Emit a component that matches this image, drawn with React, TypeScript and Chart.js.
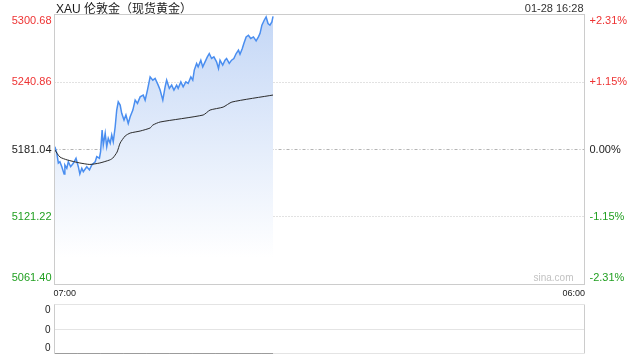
import React, { useEffect, useRef } from "react";
import { Chart, registerables } from "chart.js";

Chart.register(...registerables);

const FONT = '"Liberation Sans", Arial, "Noto Sans CJK SC", sans-serif';

const titleText = "XAU 伦敦金（现货黄金）";
const timeStamp = "01-28 16:28";
const watermark = "sina.com";

const priceTicks = [5061.4, 5121.22, 5181.04, 5240.86, 5300.68];
const pctTickLabels = ["-2.31%", "-1.15%", "0.00%", "+1.15%", "+2.31%"];
const baseIndex = 2;

const dayMinutes = 1380;
const timeTickMinutes = [0, 1380];
const timeTickLabels = ["07:00", "06:00"];

// minutes after 07:00
const priceMinutes = [
  1, 6, 10, 14, 19, 25, 27, 32, 36, 42, 49, 56, 62, 66, 71, 75, 84, 91, 97, 106, 110, 117,
  120, 124, 127, 132, 136, 140, 145, 149, 153, 158, 162, 166, 171, 175, 181, 186, 192, 197,
  204, 210, 216, 223, 231, 236, 242, 249, 256, 262, 270, 275, 282, 288, 292, 299, 305, 311,
  318, 322, 329, 335, 342, 348, 355, 360, 364, 370, 374, 381, 386, 392, 398, 403, 409, 415,
  422, 427, 431, 438, 444, 448, 455, 461, 467, 473, 479, 483, 489, 493, 499, 505, 511, 518,
  525, 531, 535, 540, 546, 551, 556, 561, 566, 569,
];
const priceValues = [
  5183.5, 5177.9, 5169.1, 5170.2, 5165.8, 5159.4, 5167.3, 5164.4, 5170.2, 5165.8, 5168.8,
  5173.3, 5165.8, 5159.4, 5164.4, 5161.4, 5165.8, 5162.9, 5167.3, 5170.2, 5174.7, 5173.3,
  5179.1, 5198.3, 5185.0, 5195.4, 5183.5, 5191.0, 5186.5, 5193.9, 5187.9, 5201.2, 5216.0,
  5223.3, 5220.4, 5213.1, 5207.1, 5211.6, 5204.2, 5210.1, 5216.0, 5224.8, 5221.9, 5227.7,
  5229.2, 5224.8, 5233.7, 5245.4, 5242.5, 5244.0, 5238.1, 5233.7, 5224.8, 5236.6, 5242.5,
  5235.2, 5238.1, 5233.7, 5238.1, 5235.2, 5241.0, 5236.6, 5241.0, 5239.6, 5245.4, 5242.5,
  5251.4, 5257.3, 5254.3, 5260.2, 5254.3, 5258.7, 5263.1, 5266.1, 5261.7, 5263.1, 5258.7,
  5252.9, 5260.2, 5255.8, 5260.2, 5261.7, 5257.3, 5260.2, 5261.7, 5266.1, 5269.1, 5265.5,
  5270.6, 5275.0, 5280.8, 5282.3, 5279.4, 5280.8, 5277.3, 5280.8, 5283.8, 5291.2, 5295.6,
  5298.5, 5292.7, 5291.2, 5294.1, 5299.1,
];

const avgMinutes = [1, 14, 33, 66, 92, 118, 144, 152, 163, 171, 184, 197, 223, 249, 256, 275, 387, 405, 439, 462, 569];
const avgValues = [
  5180.6, 5174.4, 5171.8, 5169.1, 5167.8, 5169.1, 5171.8, 5173.5, 5178.8, 5186.8, 5193.0,
  5195.6, 5197.4, 5200.1, 5202.7, 5205.4, 5211.6, 5216.0, 5218.6, 5223.1, 5229.3,
];

const volumeMinutes = [1, 60, 120, 180, 240, 300, 360, 420, 480, 540, 569];
const volumeValues = [0, 0, 0, 0, 0, 0, 0, 0, 0, 0, 0];
const volumeTickLabels = ["0", "0", "0"];

const RED = "#ee3333";
const GREEN = "#22a022";
const DARK = "#222222";
const BORDER = "#cccccc";

const crisp = (v: number) => Math.round(v - 0.5) + 0.5;

const mainDecor = {
  id: "mainDecor",
  beforeDatasetsDraw(chart: any) {
    const { ctx, chartArea: a, scales } = chart;
    const y = scales.y;
    ctx.save();
    ctx.lineWidth = 1;
    priceTicks.forEach((v, i) => {
      if (i === 0 || i === priceTicks.length - 1) return;
      const py = crisp(y.getPixelForValue(v));
      ctx.beginPath();
      if (i === baseIndex) {
        ctx.strokeStyle = "#b4b4b4";
        ctx.setLineDash([3, 2, 1, 2]);
      } else {
        ctx.strokeStyle = "#c4c4c4";
        ctx.setLineDash([1, 2]);
      }
      ctx.moveTo(a.left, py);
      ctx.lineTo(a.right, py);
      ctx.stroke();
    });
    ctx.restore();
  },
  afterDraw(chart: any) {
    const { ctx, chartArea: a, scales } = chart;
    const y = scales.y;
    const x = scales.x;
    ctx.save();
    ctx.strokeStyle = BORDER;
    ctx.lineWidth = 1;
    ctx.setLineDash([]);
    ctx.strokeRect(crisp(a.left), crisp(a.top), Math.round(a.right - a.left), Math.round(a.bottom - a.top));

    ctx.font = `11px ${FONT}`;
    ctx.textBaseline = "middle";
    priceTicks.forEach((v, i) => {
      let py = y.getPixelForValue(v);
      py = Math.min(Math.max(py, a.top + 6), a.bottom - 7);
      const col = i > baseIndex ? RED : i < baseIndex ? GREEN : DARK;
      ctx.fillStyle = col;
      ctx.textAlign = "right";
      ctx.fillText(v.toFixed(2), a.left - 3, py);
      ctx.textAlign = "left";
      ctx.fillText(pctTickLabels[i], a.right + 5, py);
    });

    ctx.font = `9px ${FONT}`;
    ctx.fillStyle = DARK;
    ctx.textBaseline = "middle";
    timeTickMinutes.forEach((m, i) => {
      const px = x.getPixelForValue(m);
      ctx.textAlign = i === 0 ? "left" : "right";
      ctx.fillText(timeTickLabels[i], i === 0 ? px - 1 : px + 0.5, a.bottom + 9);
    });

    ctx.font = `10px ${FONT}`;
    ctx.fillStyle = "#c2c2c2";
    ctx.textAlign = "right";
    ctx.fillText(watermark, a.right - 11, a.bottom - 6);

    ctx.textBaseline = "alphabetic";
    ctx.font = `12px ${FONT}`;
    ctx.fillStyle = "#1a1a1a";
    ctx.textAlign = "left";
    ctx.fillText(titleText, a.left + 1.5, 12.5);
    ctx.font = `11px ${FONT}`;
    ctx.fillStyle = "#333";
    ctx.textAlign = "right";
    ctx.fillText(timeStamp, a.right - 1, 12);
    ctx.restore();
  },
};

const volDecor = {
  id: "volDecor",
  beforeDatasetsDraw(chart: any) {
    const { ctx, chartArea: a, scales } = chart;
    const y = scales.y;
    ctx.save();
    ctx.lineWidth = 1;
    ctx.strokeStyle = "#c8c8c8";
    ctx.setLineDash([1, 1]);
    [1, 0.5, 0].forEach((v) => {
      const py = crisp(y.getPixelForValue(v));
      ctx.beginPath();
      ctx.moveTo(a.left, py);
      ctx.lineTo(a.right, py);
      ctx.stroke();
    });
    ctx.setLineDash([]);
    ctx.strokeStyle = BORDER;
    ctx.beginPath();
    ctx.moveTo(crisp(a.left), a.top);
    ctx.lineTo(crisp(a.left), a.bottom);
    ctx.moveTo(crisp(a.right), a.top);
    ctx.lineTo(crisp(a.right), a.bottom);
    ctx.stroke();
    ctx.restore();
  },
  afterDraw(chart: any) {
    const { ctx, chartArea: a, scales } = chart;
    const y = scales.y;
    ctx.save();
    ctx.font = `10px ${FONT}`;
    ctx.fillStyle = DARK;
    ctx.textAlign = "right";
    ctx.textBaseline = "middle";
    [1, 0.5, 0].forEach((v, i) => {
      let py = y.getPixelForValue(v);
      py = Math.min(Math.max(py, a.top + 6), a.bottom - 5);
      if (i === 1) py += 1;
      ctx.fillText(volumeTickLabels[i], a.left - 4, py);
    });
    ctx.restore();
  },
};

export default function App() {
  const mainRef = useRef<HTMLCanvasElement | null>(null);
  const volRef = useRef<HTMLCanvasElement | null>(null);

  useEffect(() => {
    const mainChart = new Chart(mainRef.current as HTMLCanvasElement, {
      type: "line",
      data: {
        datasets: [
          {
            label: "avg",
            data: avgMinutes.map((m, i) => ({ x: m, y: avgValues[i] })),
            borderColor: "#2b2b2b",
            borderWidth: 1,
            pointRadius: 0,
            fill: false,
            tension: 0.2,
            order: 1,
          },
          {
            label: "price",
            data: priceMinutes.map((m, i) => ({ x: m, y: priceValues[i] })),
            borderColor: "#4a8ef0",
            borderWidth: 1.5,
            pointRadius: 0,
            tension: 0,
            fill: "start",
            order: 2,
            backgroundColor: (c: any) => {
              const ch = c.chart;
              const area = ch.chartArea;
              if (!area) return "rgba(200,218,247,0.6)";
              const g = ch.ctx.createLinearGradient(0, area.top, 0, area.bottom);
              g.addColorStop(0, "rgba(196,215,246,1)");
              g.addColorStop(0.9, "rgba(255,255,255,1)");
              g.addColorStop(1, "rgba(255,255,255,1)");
              return g;
            },
          },
        ],
      },
      options: {
        animation: false,
        responsive: false,
        maintainAspectRatio: false,
        layout: { padding: { left: 54.5, right: 55.5, top: 14.5, bottom: 15.5 } },
        scales: {
          x: { type: "linear", min: 0, max: dayMinutes, display: false },
          y: { type: "linear", min: priceTicks[0], max: priceTicks[priceTicks.length - 1], display: false },
        },
        plugins: { legend: { display: false }, tooltip: { enabled: false } },
      },
      plugins: [mainDecor],
    } as any);

    const volChart = new Chart(volRef.current as HTMLCanvasElement, {
      type: "line",
      data: {
        datasets: [
          {
            label: "volume",
            data: volumeMinutes.map((m, i) => ({ x: m, y: volumeValues[i] })),
            borderColor: "#555555",
            borderWidth: 1,
            pointRadius: 0,
            fill: false,
          },
        ],
      },
      options: {
        animation: false,
        responsive: false,
        maintainAspectRatio: false,
        layout: { padding: { left: 54.5, right: 55.5, top: 4.5, bottom: 6.5 } },
        scales: {
          x: { type: "linear", min: 0, max: dayMinutes, display: false },
          y: { type: "linear", min: 0, max: 1, display: false },
        },
        plugins: { legend: { display: false }, tooltip: { enabled: false } },
      },
      plugins: [volDecor],
    } as any);

    return () => {
      mainChart.destroy();
      volChart.destroy();
    };
  }, []);

  return (
    <div style={{ position: "fixed", left: 0, top: 0, width: 640, height: 360, background: "#fff" }}>
      <canvas ref={mainRef} width={640} height={300} style={{ position: "absolute", left: 0, top: 0, width: 640, height: 300 }} />
      <canvas ref={volRef} width={640} height={60} style={{ position: "absolute", left: 0, top: 300, width: 640, height: 60 }} />
    </div>
  );
}
